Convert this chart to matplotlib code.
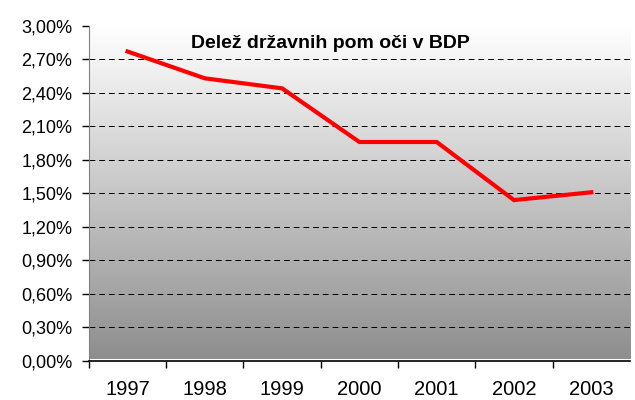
import numpy as np
import matplotlib
matplotlib.use('Agg')
from matplotlib import pyplot as plt
from matplotlib.colors import LinearSegmentedColormap

# podatki
leta = ['1997', '1998', '1999', '2000', '2001', '2002', '2003']
delez = [2.77, 2.53, 2.44, 1.96, 1.96, 1.44, 1.51]
y_ticks = [0.0, 0.3, 0.6, 0.9, 1.2, 1.5, 1.8, 2.1, 2.4, 2.7, 3.0]
naslov = 'Delež državnih pom oči v BDP'


def main():
    plt.rcParams['font.family'] = ['Liberation Sans', 'DejaVu Sans']

    fig = plt.figure(figsize=(6.35, 4.0), dpi=100)
    ax = fig.add_axes([0.140, 0.0975, 0.852, 0.838])

    x = np.arange(len(leta))
    ax.set_xlim(-0.5, len(leta) - 0.5)
    ax.set_ylim(0, 3.0)

    # gradient ozadje (belo zgoraj, sivo spodaj)
    cmap = LinearSegmentedColormap.from_list('siva', ['#ffffff', '#8e8e8e'])
    grad = np.linspace(0, 1, 256).reshape(-1, 1)
    ax.imshow(grad, cmap=cmap, aspect='auto', origin='upper',
              extent=(-0.5, len(leta) - 0.5, 0.02, 3.0), zorder=0, interpolation='bicubic')

    # mreža
    for t in y_ticks[1:-1]:
        ax.axhline(t, color='black', linestyle=(0, (6, 4)), linewidth=0.7, zorder=1)

    ax.plot(x, delez, color='#ff0000', linewidth=3, zorder=3, solid_joinstyle='miter')

    ax.set_yticks(y_ticks)
    ax.set_yticklabels(['{:.2f}%'.format(t).replace('.', ',') for t in y_ticks], fontsize=13)
    ax.set_xticks(x)
    ax.set_xticklabels(leta, fontsize=14.5)
    ax.set_xticks(np.arange(-0.5, len(leta) - 0.5, 1), minor=True)
    ax.tick_params(axis='x', which='major', length=0, pad=14)
    ax.tick_params(axis='x', which='minor', length=5, width=1, direction='out')
    ax.tick_params(axis='y', length=5, width=1, direction='out', pad=7)

    for s in ['top', 'right']:
        ax.spines[s].set_visible(False)
    ax.spines['left'].set_color('#808080')
    ax.spines['bottom'].set_color('black')
    ax.spines['bottom'].set_linewidth(1.2)

    ax.text(0.447, 0.946, naslov, transform=ax.transAxes, ha='center', va='center',
            fontsize=14, fontweight='bold')

    fig.savefig('out.png', dpi=100)


if __name__ == '__main__':
    main()
